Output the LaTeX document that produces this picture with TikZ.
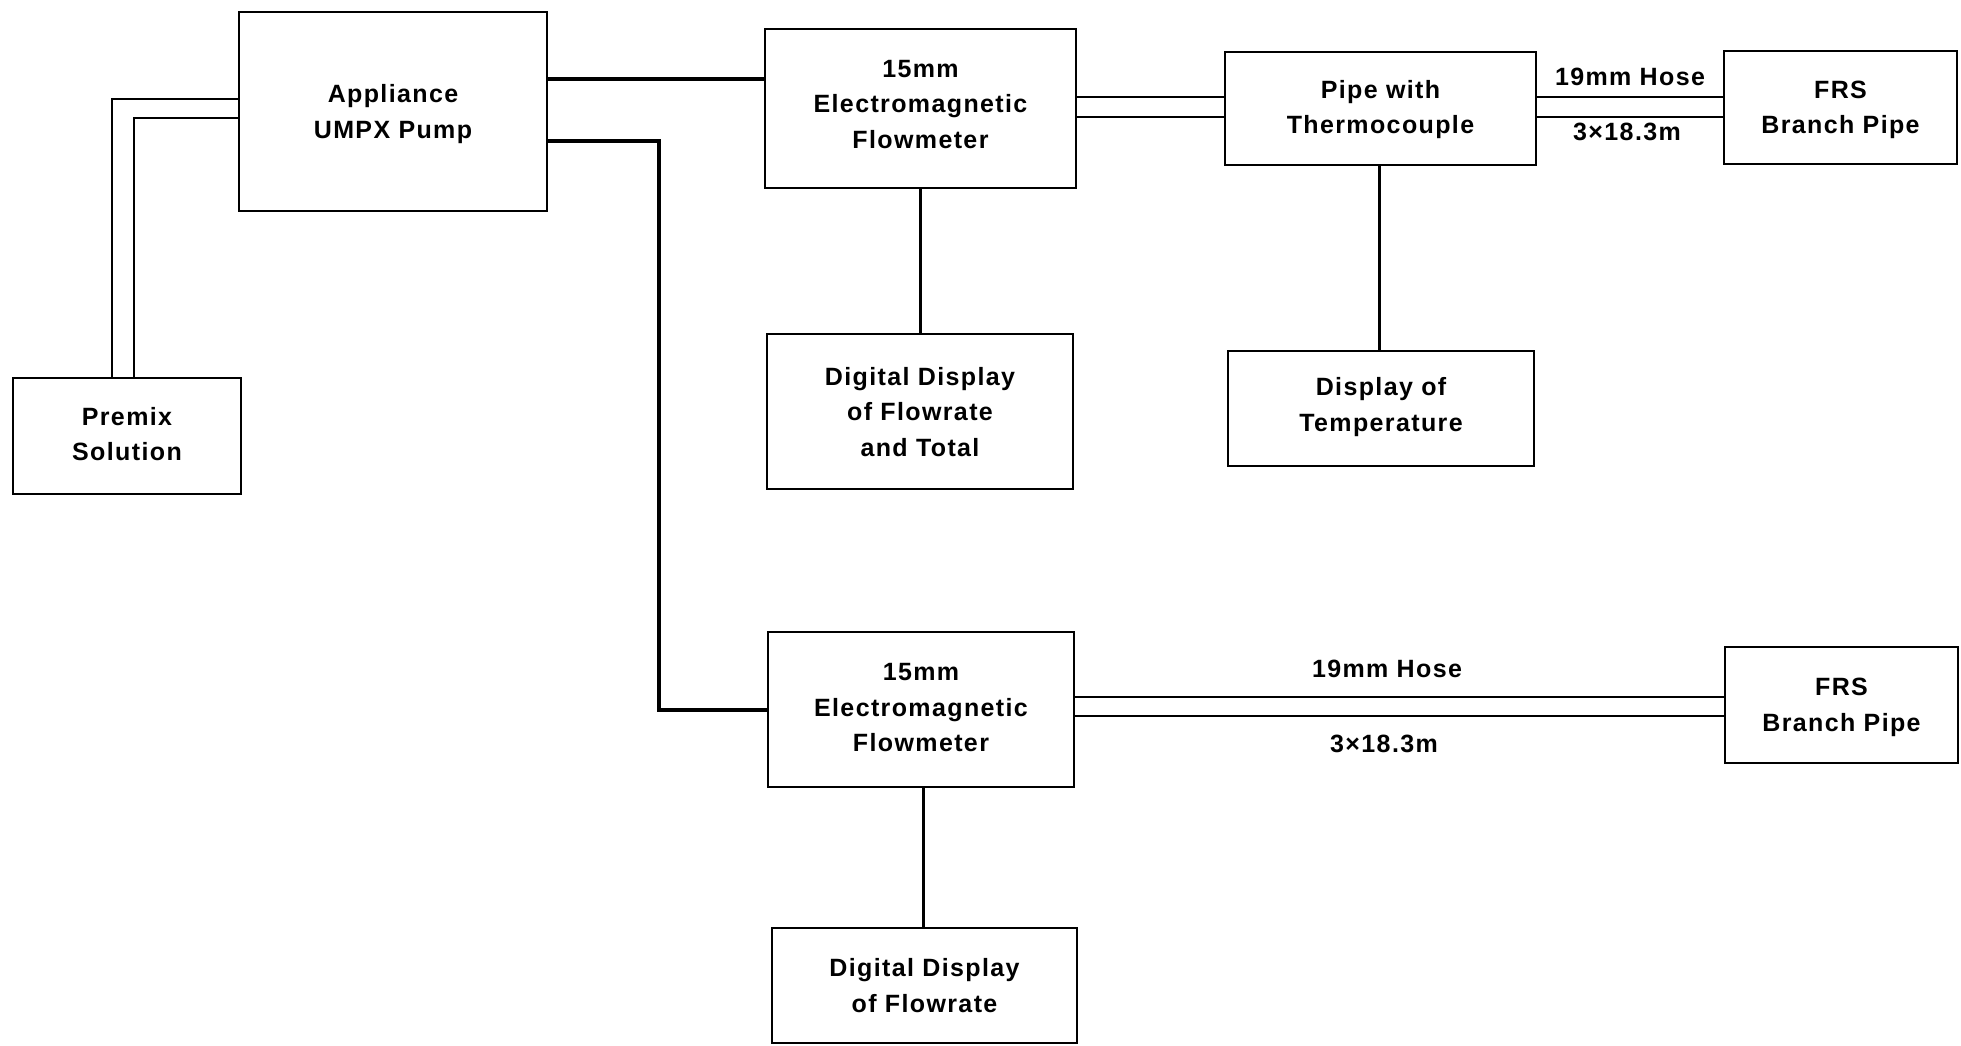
\documentclass[tikz,border=0pt]{standalone}
\usepackage{fontspec}
\setmainfont{Liberation Sans}[LetterSpace=5.5]
\begin{document}
\begin{tikzpicture}[x=1pt,y=-1pt,
  box/.style={draw, line width=2.5pt, inner sep=0pt, align=center, text depth=0pt,
    font=\fontsize{25}{35.5}\selectfont\bfseries},
  lab/.style={inner sep=0pt, anchor=base, font=\fontsize{25}{35.5}\selectfont\bfseries},
  pipeline/.style={line width=2.5pt},
  heavy/.style={line width=4pt},
  wire/.style={line width=3pt}]
\useasboundingbox (0,0) rectangle (1961,1045);
\node[box, minimum width=308pt, minimum height=199pt] (pump) at (393,111.5) {Appliance\\UMPX Pump};
\node[box, minimum width=228pt, minimum height=116pt, text depth=4pt] (premix) at (127,436) {Premix\\Solution};
\node[box, minimum width=311pt, minimum height=159pt, text depth=9pt] (fm1) at (920.5,108.5) {15mm\\Electromagnetic\\Flowmeter};
\node[box, minimum width=306pt, minimum height=155pt] (dd1) at (920,411.5) {Digital Display\\of Flowrate\\and Total};
\node[box, minimum width=311pt, minimum height=113pt, text depth=3pt] (pipe) at (1380.5,108.5) {Pipe with\\Thermocouple};
\node[box, minimum width=306pt, minimum height=115pt, text depth=8pt] (temp) at (1381,408.5) {Display of\\Temperature};
\node[box, minimum width=233pt, minimum height=113pt] (frs1) at (1840.5,107.5) {FRS\\Branch Pipe};
\node[box, minimum width=306pt, minimum height=155pt, text depth=4pt] (fm2) at (921,709.5) {15mm\\Electromagnetic\\Flowmeter};
\node[box, minimum width=233pt, minimum height=116pt] (frs2) at (1841.5,705) {FRS\\Branch Pipe};
\node[box, minimum width=305pt, minimum height=115pt] (dd2) at (924.5,985.5) {Digital Display\\of Flowrate};

\node[lab] (hose1) at (1630,85) {19mm Hose};
\node[lab] (len1) at (1627,140) {3×18.3m};
\node[lab] (hose2) at (1387,677) {19mm Hose};
\node[lab] (len2) at (1384,752) {3×18.3m};

% pump connections
\draw[heavy] ([yshift=32.5pt]pump.east) coordinate (a1) -- (a1 -| fm1.west);
\coordinate (bend) at (659,400);
\draw[heavy] ([yshift=-29.5pt]pump.east) -| (bend) |- (fm2.west);
% premix double line
\draw[pipeline] ([yshift=12.5pt]pump.west) -| ([xshift=100pt]premix.north west);
\draw[pipeline] ([yshift=-6.5pt]pump.west) -| ([xshift=122pt]premix.north west);
% fm1 to pipe double line
\draw[pipeline] ([yshift=11.5pt]fm1.east) coordinate (b1) -- (b1 -| pipe.west);
\draw[pipeline] ([yshift=-8.5pt]fm1.east) coordinate (b2) -- (b2 -| pipe.west);
% pipe to frs1 hose
\draw[pipeline] ([yshift=11.5pt]pipe.east) coordinate (c1) -- (c1 -| frs1.west);
\draw[pipeline] ([yshift=-8.5pt]pipe.east) coordinate (c2) -- (c2 -| frs1.west);
% fm2 to frs2 hose
\draw[pipeline] ([yshift=12.5pt]fm2.east) coordinate (d1) -- (d1 -| frs2.west);
\draw[pipeline] ([yshift=-6.5pt]fm2.east) coordinate (d2) -- (d2 -| frs2.west);
% instrument wires
\draw[wire] (fm1.south) -- (fm1.south |- dd1.north);
\draw[wire] ([xshift=-1.5pt]pipe.south) coordinate (e1) -- (e1 |- temp.north);
\draw[wire] ([xshift=2pt]fm2.south) coordinate (f1) -- (f1 |- dd2.north);
\end{tikzpicture}
\end{document}
